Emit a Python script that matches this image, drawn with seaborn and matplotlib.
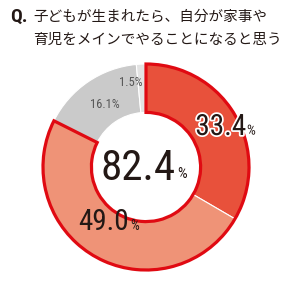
import matplotlib
matplotlib.use("Agg")
import matplotlib.pyplot as plt
import seaborn as sns
from matplotlib.patches import Wedge
import matplotlib.patheffects as pe

sns.set_theme(style="white")
plt.rcParams['font.family'] = ['Noto Sans CJK JP', 'DejaVu Sans']

# Data
categories = ["メインでやる(そう思う)", "メインでやる(ややそう思う)", "そう思わない", "無回答"]
values = [33.4, 49.0, 16.1, 1.5]
colors = ["#E8513B", "#EF9377", "#CACACA", "#E3E3E3"]
title_lines = ["子どもが生まれたら、自分が家事や", "育児をメインでやることになると思う"]
question_mark = "Q."

W, H = 300, 281
fig = plt.figure(figsize=(W / 100, H / 100), dpi=100)
fig.patch.set_facecolor("white")

cx, cy, R = 146, 167, 103  # pixel center and radius
half = 1.1
ax = fig.add_axes([(cx - half * R) / W, (H - cy - half * R) / H, 2 * half * R / W, 2 * half * R / H])
ax.axis("off")

ring_w = 0.47
ax.pie(values, colors=colors, startangle=90, counterclock=False, radius=1.0,
       wedgeprops=dict(width=ring_w, edgecolor="white", linewidth=0.8))

# Red outline around the "yes" portion (first two categories)
yes_total = values[0] + values[1]
theta_end = 90
theta_start = 90 - yes_total / sum(values) * 360
ax.add_patch(Wedge((0, 0), 1.0, theta_start, theta_end, width=ring_w, fill=False,
                   edgecolor="#E00A12", linewidth=2.3, joinstyle="miter", zorder=5))
ax.set_aspect("equal")
ax.set_xlim(-half, half)
ax.set_ylim(-half, half)

def px(x, y):
    return ((x - cx) / R, (cy - y) / R)

num_font = ['Roboto Condensed', 'Barlow Semi Condensed', 'Saira Semi Condensed', 'DejaVu Sans']
dark = "#231815"
halo = [pe.withStroke(linewidth=2.5, foreground="white")]

def label(xr, yc, v, size, psize, color=dark, effects=None):
    ax.text(*px(xr, yc), f"{v:.1f}", ha="right", va="center", fontsize=size,
            family=num_font, fontweight="normal", color=color, zorder=10, path_effects=effects)
    ax.text(*px(xr + 1, yc + size * 0.17), "%", ha="left", va="center", fontsize=psize,
            family=num_font, fontweight="normal", color=color, zorder=10, path_effects=effects)

label(246, 127, values[0], 21, 10, effects=halo)
label(129, 222, values[1], 21, 10)
ax.text(*px(105, 105), f"{values[2]:.1f}%", ha="center", va="center", fontsize=9,
        family=num_font, color="#555555", zorder=10)
ax.text(*px(131, 82), f"{values[3]:.1f}%", ha="center", va="center", fontsize=9,
        family=num_font, color="#555555", zorder=10)
label(176, 169, yes_total, 31, 11)

fig.text(10 / W, 1 - 17 / H, question_mark, ha="left", va="center", fontsize=14,
         fontweight="bold", family=num_font, color=dark)
fig.text(33 / W, 1 - 17 / H, title_lines[0], ha="left", va="center", fontsize=10.5, color=dark)
fig.text(33 / W, 1 - 40 / H, title_lines[1], ha="left", va="center", fontsize=10.5, color=dark)

fig.savefig("out.png", dpi=100, facecolor="white")
